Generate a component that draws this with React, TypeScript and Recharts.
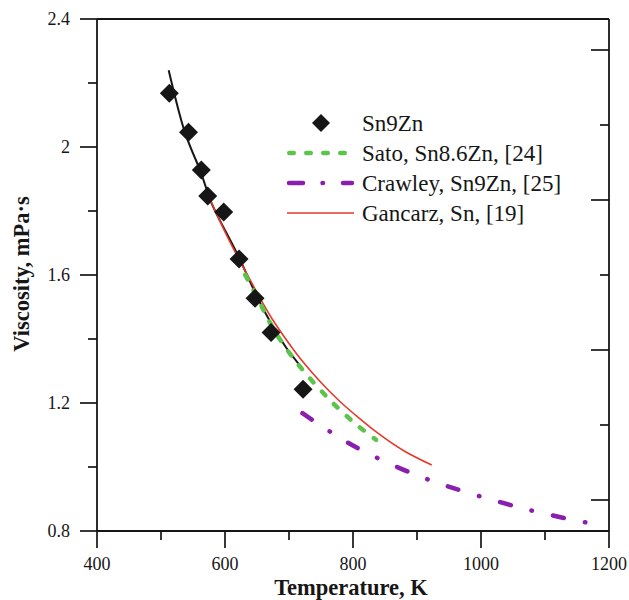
import React from 'react';
import { ComposedChart, Line, Scatter, XAxis, YAxis, Legend } from 'recharts';

// axis ticks
const xTicks = [400, 500, 600, 700, 800, 900, 1000, 1100, 1200];
const yTicks = [0.8, 1.0, 1.2, 1.4, 1.6, 1.8, 2.0, 2.2, 2.4];
const rightTicks = [0, 1, 2, 3, 4, 5, 6];

// Sn9Zn measurements: temperature (K), viscosity (mPa·s)
const measuredT = [513, 543, 563, 573, 598, 622, 647, 672, 722];
const measuredEta = [2.168, 2.046, 1.928, 1.847, 1.797, 1.65, 1.527, 1.42, 1.243];

// fitted curve through the measurements
const fitT = [512, 537, 561, 577, 600, 623, 647, 673, 696, 720];
const fitEta = [2.24, 2.048, 1.928, 1.834, 1.74, 1.65, 1.545, 1.445, 1.372, 1.31];

// Sato, Sn8.6Zn
const satoT = [618, 636, 657, 681, 717, 748, 767, 788, 808, 836];
const satoEta = [1.647, 1.584, 1.503, 1.414, 1.314, 1.243, 1.203, 1.163, 1.128, 1.085];

// Crawley, Sn9Zn
const crawleyT = [721, 767, 813, 870, 920, 971, 1030, 1083, 1136, 1166];
const crawleyEta = [1.168, 1.107, 1.053, 0.999, 0.959, 0.925, 0.89, 0.862, 0.838, 0.826];

// Gancarz, Sn
const gancarzT = [577, 600, 623, 650, 673, 700, 722, 750, 780, 810, 840, 880, 923];
const gancarzEta = [1.834, 1.735, 1.645, 1.545, 1.465, 1.386, 1.328, 1.264, 1.204, 1.152, 1.104, 1.05, 1.006];

const toRows = (ts: number[], etas: number[]) => ts.map((T, i) => ({ T, eta: etas[i] }));

const measured = toRows(measuredT, measuredEta);
const fit = toRows(fitT, fitEta);
const sato = toRows(satoT, satoEta);
const crawley = toRows(crawleyT, crawleyEta);
const gancarz = toRows(gancarzT, gancarzEta);

const FONT = '"Liberation Serif", "Times New Roman", serif';
const INK = '#161616';
const GREEN = '#5cc44a';
const PURPLE = '#8a1fae';
const RED = '#e5392b';
const GREEN_DASH = '5 12.5';
const PURPLE_DASH = '11 21.5 0.5 21.5';

const MAJOR = 17;
const MINOR = 9;

const BottomTick = ({ x, y, payload }: any) => {
  const major = payload.value % 200 === 0;
  return (
    <g>
      <line x1={x} x2={x} y1={y} y2={y + (major ? MAJOR : MINOR)} stroke={INK} strokeWidth={1.7} />
      {major && (
        <text x={x} y={y + 38.5} textAnchor="middle" fontSize={18} fontFamily={FONT} fill={INK}>
          {payload.value}
        </text>
      )}
    </g>
  );
};

const TopTick = ({ x, y, payload }: any) => {
  const major = payload.value % 200 === 0;
  return <line x1={x} x2={x} y1={y} y2={y + (major ? MAJOR : MINOR)} stroke={INK} strokeWidth={1.7} />;
};

const LeftTick = ({ x, y, payload }: any) => {
  const major = Math.round(payload.value * 10) % 4 === 0;
  return (
    <g>
      <line x1={x - (major ? MAJOR : MINOR)} x2={x} y1={y} y2={y} stroke={INK} strokeWidth={1.7} />
      {major && (
        <text x={x - 27} y={y + 6} textAnchor="end" fontSize={18} fontFamily={FONT} fill={INK}>
          {String(parseFloat(payload.value.toFixed(1)))}
        </text>
      )}
    </g>
  );
};

const RightTick = ({ x, y, payload }: any) => {
  const major = payload.value % 2 === 0;
  return <line x1={x - (major ? 18 : MINOR)} x2={x} y1={y} y2={y} stroke={INK} strokeWidth={1.7} />;
};

const Diamond = ({ cx, cy }: any) => (
  <path d={`M${cx},${cy - 9.5}L${cx + 9.5},${cy}L${cx},${cy + 9.5}L${cx - 9.5},${cy}Z`} fill={INK} />
);

const XTitle = ({ value }: any) => (
  <text x={351} y={595} textAnchor="middle" fontSize={22.5} fontWeight="bold" fontFamily={FONT} fill={INK}>
    {value}
  </text>
);

const YTitle = ({ value }: any) => (
  <text
    x={28.5}
    y={274}
    transform="rotate(-90 28.5 274)"
    textAnchor="middle"
    fontSize={22.5}
    fontWeight="bold"
    fontFamily={FONT}
    fill={INK}
  >
    {value}
  </text>
);

const legendRows = ['Sn9Zn', 'Sato, Sn8.6Zn, [24]', 'Crawley, Sn9Zn, [25]', 'Gancarz, Sn, [19]'];

const LegendBox = () => {
  const rowY = (i: number) => 15 + i * 30;
  return (
    <svg width={290} height={120} style={{ display: 'block', overflow: 'visible' }}>
      <path d={`M38,${rowY(0) - 9}L47,${rowY(0)}L38,${rowY(0) + 9}L29,${rowY(0)}Z`} fill={INK} />
      <line x1={6.25} x2={70} y1={rowY(1)} y2={rowY(1)} stroke={GREEN} strokeWidth={4.5}
        strokeLinecap="round" strokeDasharray="4.5 12.5" />
      <line x1={6} x2={69} y1={rowY(2)} y2={rowY(2)} stroke={PURPLE} strokeWidth={4.5}
        strokeLinecap="round" strokeDasharray="14 19.5 0.5 20" />
      <line x1={4} x2={71} y1={rowY(3)} y2={rowY(3)} stroke={RED} strokeWidth={1.6} />
      {legendRows.map((label, i) => (
        <text key={label} x={79} y={rowY(i) + 8} fontSize={23} fontFamily={FONT} fill={INK}>
          {label}
        </text>
      ))}
    </svg>
  );
};

export default function App() {
  return (
    <div style={{ position: 'absolute', left: 0, top: 0, width: 629, height: 600 }}>
      <ComposedChart width={629} height={600} margin={{ top: 18, right: 19, bottom: 0, left: 0 }}>
        <XAxis
          xAxisId="bottom"
          dataKey="T"
          type="number"
          domain={[400, 1200]}
          allowDataOverflow
          ticks={xTicks}
          interval={0}
          height={69}
          tickLine={false}
          tickSize={0}
          tickMargin={0}
          tick={<BottomTick />}
          axisLine={{ stroke: INK, strokeWidth: 1.8 }}
          label={{ value: 'Temperature, K', content: XTitle }}
        />
        {/* frame: top and right edges carry inward ticks only */}
        <XAxis
          xAxisId="top"
          orientation="top"
          type="number"
          domain={[400, 1200]}
          allowDataOverflow
          ticks={xTicks}
          interval={0}
          height={1}
          tickLine={false}
          tickSize={0}
          tickMargin={0}
          tick={<TopTick />}
          axisLine={{ stroke: INK, strokeWidth: 1.8 }}
        />
        <YAxis
          yAxisId="left"
          type="number"
          domain={[0.8, 2.4]}
          allowDataOverflow
          ticks={yTicks}
          interval={0}
          width={97}
          tickLine={false}
          tickSize={0}
          tickMargin={0}
          tick={<LeftTick />}
          axisLine={{ stroke: INK, strokeWidth: 1.8 }}
          label={{ value: 'Viscosity, mPa·s', content: YTitle }}
        />
        <YAxis
          yAxisId="right"
          orientation="right"
          type="number"
          domain={[-31 / 75, 481 / 75]}
          allowDataOverflow
          ticks={rightTicks}
          interval={0}
          width={1}
          tickLine={false}
          tickSize={0}
          tickMargin={0}
          tick={<RightTick />}
          axisLine={{ stroke: INK, strokeWidth: 1.8 }}
        />
        <Legend layout="vertical" align="center" verticalAlign="middle" content={<LegendBox />}
          wrapperStyle={{ left: 283, top: 108, width: 290, height: 120 }} />
        <Scatter
          xAxisId="bottom"
          yAxisId="left"
          data={measured}
          dataKey="eta"
          shape={<Diamond />}
          isAnimationActive={false}
        />
        <Line xAxisId="bottom" yAxisId="left" data={fit} dataKey="eta" type="natural" stroke={INK}
          strokeWidth={2} dot={false} activeDot={false} isAnimationActive={false} />
        <Line xAxisId="bottom" yAxisId="left" data={gancarz} dataKey="eta" type="natural" stroke={RED}
          strokeWidth={1.6} dot={false} activeDot={false} isAnimationActive={false} />
        <Line xAxisId="bottom" yAxisId="left" data={crawley} dataKey="eta" type="natural" stroke={PURPLE}
          strokeWidth={4.5} strokeDasharray={PURPLE_DASH} strokeLinecap="round" dot={false} activeDot={false}
          isAnimationActive={false} />
        <Line xAxisId="bottom" yAxisId="left" data={sato} dataKey="eta" type="natural" stroke={GREEN}
          strokeWidth={4.5} strokeDasharray={GREEN_DASH} strokeLinecap="round" dot={false} activeDot={false}
          isAnimationActive={false} />
      </ComposedChart>
    </div>
  );
}
